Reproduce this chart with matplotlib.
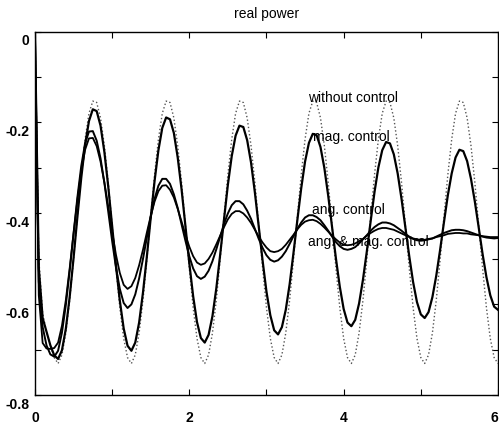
import numpy as np
import matplotlib
matplotlib.use('Agg')
from matplotlib import pyplot as plt

plt.rcParams['font.family'] = ['Liberation Sans', 'DejaVu Sans']

# time axis, 0.05 s steps
t = np.round(np.arange(0, 6.001, 0.05), 2)

# without control (dotted), roughly undamped
w_cycle = [-0.730, -0.711, -0.663, -0.591, -0.502, -0.407, -0.315, -0.237, -0.180, -0.153,
           -0.156, -0.190, -0.251, -0.332, -0.426, -0.520, -0.607, -0.675, -0.717]
without_ctrl = [0.0, -0.50, -0.62, -0.66, -0.69, -0.717] + w_cycle * 6 + [-0.730]

# magnitude control
mag_ctrl = [0.0, -0.52, -0.63, -0.66, -0.69, -0.712,
            -0.720, -0.701, -0.654, -0.584, -0.499, -0.408, -0.322, -0.249, -0.197, -0.171,
            -0.175, -0.207, -0.265, -0.341, -0.427, -0.514, -0.592, -0.653, -0.691,
            -0.702, -0.684, -0.640, -0.574, -0.495, -0.410, -0.329, -0.261, -0.212, -0.189,
            -0.193, -0.223, -0.277, -0.347, -0.428, -0.509, -0.582, -0.639, -0.674,
            -0.684, -0.667, -0.626, -0.565, -0.491, -0.413, -0.337, -0.274, -0.229, -0.207,
            -0.210, -0.239, -0.288, -0.354, -0.429, -0.504, -0.572, -0.624, -0.657,
            -0.666, -0.650, -0.612, -0.556, -0.487, -0.415, -0.345, -0.286, -0.245, -0.225,
            -0.228, -0.254, -0.300, -0.361, -0.430, -0.499, -0.561, -0.610, -0.640,
            -0.648, -0.634, -0.598, -0.546, -0.484, -0.417, -0.353, -0.299, -0.261, -0.243,
            -0.246, -0.270, -0.312, -0.368, -0.431, -0.494, -0.551, -0.595, -0.622,
            -0.630, -0.617, -0.584, -0.537, -0.480, -0.419, -0.360, -0.312, -0.277, -0.260,
            -0.263, -0.285, -0.324, -0.374, -0.431, -0.489, -0.540, -0.580, -0.605,
            -0.612]

# angle control
ang_ctrl = [0.0, -0.55, -0.65, -0.69, -0.71, -0.715,
            -0.702, -0.662, -0.602, -0.527, -0.445, -0.365, -0.296, -0.246, -0.220,
            -0.219, -0.240, -0.279, -0.333, -0.396, -0.460, -0.519, -0.566, -0.597, -0.608,
            -0.600, -0.578, -0.543, -0.500, -0.453, -0.408, -0.368, -0.339, -0.324,
            -0.324, -0.335, -0.358, -0.388, -0.424, -0.460, -0.494, -0.521, -0.538, -0.544,
            -0.539, -0.526, -0.505, -0.479, -0.451, -0.423, -0.400, -0.382, -0.373,
            -0.373, -0.380, -0.394, -0.412, -0.434, -0.456, -0.476, -0.492, -0.502, -0.506,
            -0.503, -0.495, -0.483, -0.467, -0.450, -0.434, -0.420, -0.409, -0.404,
            -0.404, -0.408, -0.415, -0.426, -0.438, -0.451, -0.463, -0.472, -0.478, -0.480,
            -0.478, -0.474, -0.466, -0.457, -0.448, -0.438, -0.430, -0.424, -0.420,
            -0.420, -0.422, -0.426, -0.432, -0.438, -0.445, -0.451, -0.456, -0.459, -0.460,
            -0.459, -0.457, -0.455, -0.451, -0.447, -0.443, -0.440, -0.437, -0.436,
            -0.436, -0.437, -0.439, -0.442, -0.445, -0.448, -0.451, -0.453, -0.454, -0.455,
            -0.454]

# angle & magnitude control
ang_mag_ctrl = [0.0, -0.58, -0.685, -0.697, -0.698, -0.696,
                -0.684, -0.647, -0.591, -0.521, -0.445, -0.371, -0.307, -0.260, -0.235,
                -0.234, -0.252, -0.286, -0.332, -0.385, -0.440, -0.491, -0.531, -0.557, -0.566,
                -0.560, -0.542, -0.514, -0.480, -0.442, -0.406, -0.374, -0.351, -0.339,
                -0.338, -0.348, -0.365, -0.390, -0.418, -0.447, -0.473, -0.494, -0.508, -0.513,
                -0.510, -0.500, -0.486, -0.468, -0.449, -0.430, -0.413, -0.401, -0.395,
                -0.395, -0.400, -0.409, -0.421, -0.436, -0.451, -0.464, -0.475, -0.483, -0.485,
                -0.483, -0.478, -0.469, -0.458, -0.447, -0.435, -0.425, -0.418, -0.415,
                -0.414, -0.417, -0.423, -0.431, -0.440, -0.449, -0.457, -0.464, -0.469, -0.470,
                -0.469, -0.466, -0.461, -0.456, -0.449, -0.443, -0.438, -0.434, -0.432,
                -0.432, -0.434, -0.436, -0.440, -0.444, -0.448, -0.452, -0.455, -0.457, -0.458,
                -0.458, -0.456, -0.455, -0.452, -0.450, -0.448, -0.445, -0.444, -0.443,
                -0.443, -0.444, -0.444, -0.446, -0.447, -0.448, -0.450, -0.451, -0.452, -0.452,
                -0.452]

curve_labels = ['without control', 'mag. control', 'ang. control', 'ang. & mag. control']
label_pos = [(3.54, -0.146), (3.60, -0.232), (3.59, -0.392), (3.54, -0.463)]

x_ticks = [0, 1, 2, 3, 4, 5, 6]
x_ticklabels = ['0', '', '2', '', '4', '', '6']
y_ticks = [0, -0.1, -0.2, -0.3, -0.4, -0.5, -0.6, -0.7, -0.8]
y_labeled = [0, -0.2, -0.4, -0.6, -0.8]

fig = plt.figure(figsize=(4.99, 4.26), dpi=100)
ax = fig.add_axes([0.070, 0.072, 0.928, 0.854])

ax.plot(t, without_ctrl, color='#555555', linestyle=':', linewidth=1.0)
ax.plot(t, mag_ctrl, color='black', linewidth=1.6)
ax.plot(t, ang_ctrl, color='black', linewidth=1.4)
ax.plot(t, ang_mag_ctrl, color='black', linewidth=1.3)

for lbl, (lx, ly) in zip(curve_labels, label_pos):
    ax.text(lx, ly, lbl, fontsize=10, va='center', ha='left')

ax.set_xlim(0, 6)
ax.set_ylim(-0.8, 0)
ax.set_xticks(x_ticks)
ax.set_xticklabels(x_ticklabels, fontsize=10, fontweight='bold')
ax.get_xticklabels()[-1].set_ha('right')
ax.set_yticks(y_ticks)
ax.set_yticklabels([])
ax.tick_params(direction='in', length=4, top=True, right=True, width=0.8)
ax.tick_params(axis='x', pad=11)

# y labels sit a bit lower than their ticks in the original
for v in y_labeled:
    ax.annotate('%g' % v, xy=(0, v), xycoords=('axes fraction', 'data'),
                xytext=(-4, -7), textcoords='offset points',
                ha='right', va='center', fontsize=10, fontweight='bold')

for s in ax.spines.values():
    s.set_linewidth(1.0)

ax.set_title('real power', fontsize=10, pad=10)

plt.savefig('out.png', dpi=100)
